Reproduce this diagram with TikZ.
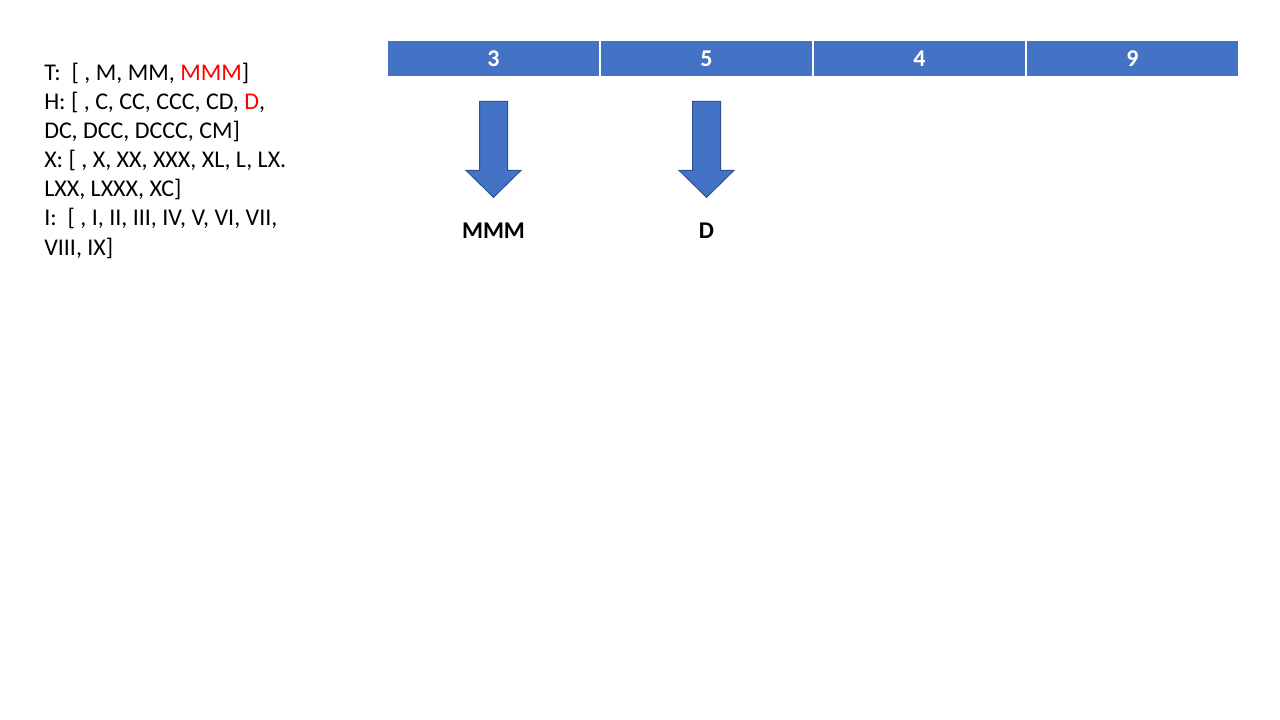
\documentclass[tikz,border=0pt]{standalone}
\usepackage{fontspec}
\setmainfont{Carlito}
\usetikzlibrary{positioning,calc}
\definecolor{cellblue}{RGB}{68,114,196}
\definecolor{edgeblue}{RGB}{47,82,143}
\definecolor{myred}{RGB}{255,0,0}

\begin{document}
\begin{tikzpicture}[
    x=0.75pt,y=-0.75pt,
    cell/.style={rectangle,draw=white,line width=0.75pt,fill=cellblue,minimum width=159pt,minimum height=27.5pt,inner sep=0pt,text=white,font=\fontsize{18}{21.6}\selectfont\bfseries},
    blockarrow/.style={fill=cellblue,draw=edgeblue,line width=0.75pt},
    result/.style={font=\fontsize{18}{21.6}\selectfont\bfseries,inner sep=0pt},
    lists/.style={align=left,inner sep=0pt,font=\fontsize{18}{21.8}\selectfont}
]
    \useasboundingbox (0,0) rectangle (1280,720);

    % Roman numeral lists for each digit place
    \node[lists,anchor=north west] (lists) at (44,63) {T:\ \ [ , M, MM, \textcolor{myred}{MMM}]\\
        H: [ , C, CC, CCC, CD, \textcolor{myred}{D},\\
        DC, DCC, DCCC, CM]\\
        X: [ , X, XX, XXX, XL, L, LX.\\
        LXX, LXXX, XC]\\
        I:\ \ [ , I, II, III, IV, V, VI, VII,\\
        VIII, IX]};

    % Digits of the number
    \node[cell] (c1) at (493.5,58.5) {3};
    \node[cell,right=0pt of c1] (c2) {5};
    \node[cell,right=0pt of c2] (c3) {4};
    \node[cell,right=0pt of c3] (c4) {9};

    % Arrows down to the converted parts
    \foreach \col/\val in {c1/MMM, c2/D} {
        \coordinate (top-\col) at ($(\col.south)+(0,24)$);
        \draw[blockarrow] (top-\col) ++(-14,0) -- ++(28,0) -- ++(0,69) -- ++(13.5,0)
            -- ++(-27.5,27) -- ++(-27.5,-27) -- ++(13.5,0) -- cycle;
        \node[result] (res-\col) at ($(\col.south)+(0,153)$) {\val};
    }
\end{tikzpicture}
\end{document}
